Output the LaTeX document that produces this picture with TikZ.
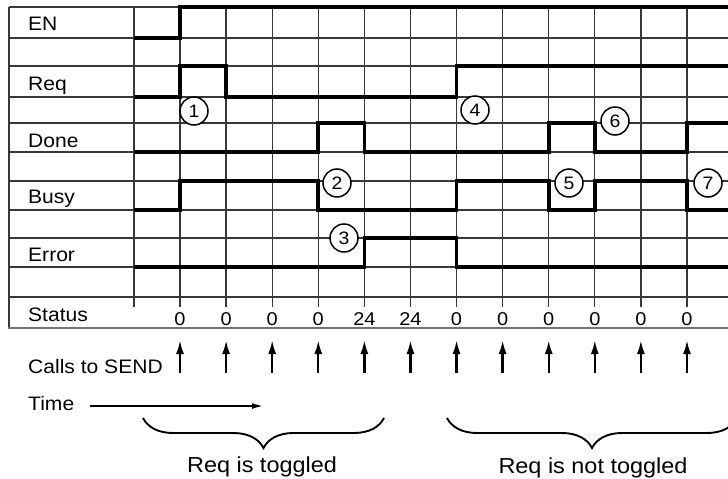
\documentclass[tikz,border=0pt]{standalone}
\usepackage{fontspec}
\setmainfont{Liberation Sans}[FakeStretch=1.08]
\usetikzlibrary{decorations.pathreplacing,arrows.meta}
\begin{document}
\begin{tikzpicture}[x=1pt,y=-1pt,
  gridline/.style={line width=1.2pt, draw=black!78},
  sig/.style={line width=3.6pt, line join=miter, line cap=butt},
  lbl/.style={anchor=base west, font=\fontsize{19.5}{20}\selectfont, inner sep=0},
  stat/.style={anchor=base, font=\fontsize{18.5}{19}\selectfont, inner sep=0},
  num/.style={circle, draw, line width=1.5pt, fill=white, minimum size=28pt, inner sep=0, font=\fontsize{18}{18}\selectfont},
  call/.style={-{Latex[length=14pt,width=8pt]}, line width=2.3pt},
  brc/.style={decorate, decoration={brace, mirror, amplitude=30pt}, line width=1.9pt},
  big/.style={anchor=base, font=\fontsize{21.7}{22}\selectfont, inner sep=0},
]
\clip (0,0) rectangle (728,479);
\fill[white] (0,0) rectangle (728,479);
% grid
\foreach \y in {7,38,66,97,123,152,181,210,238,267,297}
  \draw[gridline] (9,\y) -- (728,\y);
\draw[gridline] (9,7) -- (9,328);
\draw[line width=1.8pt, draw=black!55] (8,328) -- (728,328);
\draw[gridline] (134,7) -- (134,307);
\foreach \i in {0,...,11}
  \draw[gridline] ({180+46.09*\i},7) -- ({180+46.09*\i},307);
% labels
\node[lbl] (lEN) at (28,30) {EN};
\node[lbl] (lReq) at (28,90) {Req};
\node[lbl] (lDone) at (28,147) {Done};
\node[lbl] (lBusy) at (28,203) {Busy};
\node[lbl] (lErr) at (28,261) {Error};
\node[lbl] (lStat) at (28,321) {Status};
% signals
\draw[sig] (134,38) -- (180,38) -- (180,7) -- (729,7);
\draw[sig] (134,97) -- (180,97) -- (180,66) -- (226.09,66) -- (226.09,97) -- (456.54,97) -- (456.54,66) -- (729,66);
\draw[sig] (134,152) -- (318.27,152) -- (318.27,123) -- (364.36,123) -- (364.36,152) -- (548.72,152) -- (548.72,123) -- (594.81,123) -- (594.81,152) -- (686.99,152) -- (686.99,123) -- (729,123);
\draw[sig] (134,210) -- (180,210) -- (180,181) -- (318.27,181) -- (318.27,210) -- (456.54,210) -- (456.54,181) -- (548.72,181) -- (548.72,210) -- (594.81,210) -- (594.81,181) -- (686.99,181) -- (686.99,210) -- (729,210);
\draw[sig] (134,267) -- (364.36,267) -- (364.36,238) -- (456.54,238) -- (456.54,267) -- (729,267);
% circled numbers
\node[num] (c1) at (194,111) {1};
\node[num] (c2) at (337,183) {2};
\node[num] (c3) at (344,238) {3};
\node[num] (c4) at (475,110) {4};
\node[num] (c5) at (569,183) {5};
\node[num] (c6) at (615,121) {6};
\node[num] (c7) at (708,183) {7};
% status values and calls
\foreach \v [count=\i from 0] in {0,0,0,0,24,24,0,0,0,0,0,0} {
  \node[stat] (s\i) at ({180+46.09*\i},325) {\v};
  \coordinate (ab\i) at ({180+46.09*\i},373);
  \coordinate (at\i) at ({180+46.09*\i},340);
  \draw[call] (ab\i) -- (at\i);
}
\node[lbl] (lCalls) at (28,373) {Calls to SEND};
\node[lbl] (lTime) at (28,410) {Time};
\coordinate (t0) at (90,406);
\coordinate (t1) at (263,406);
\draw[-{Latex[length=11pt,width=6pt]}, line width=1.6pt] (t0) -- (t1);
% braces
\coordinate (b1l) at (143,418);
\coordinate (b1r) at (384,418);
\coordinate (b2l) at (447,418);
\coordinate (b2r) at (737,418);
\draw[brc] (b1l) -- (b1r);
\draw[brc] (b2l) -- (b2r);
\node[big] (tog) at (262,472) {Req is toggled};
\node[big] (ntog) at (593,473) {Req is not toggled};
\end{tikzpicture}
\end{document}
